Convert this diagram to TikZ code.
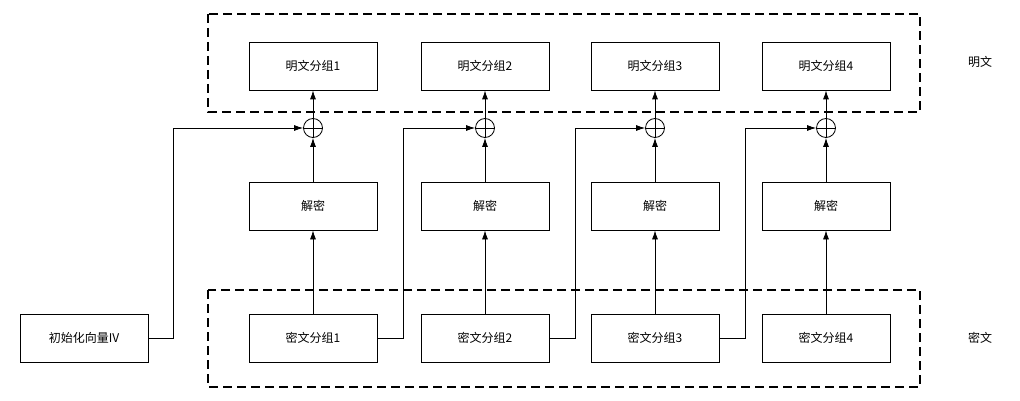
\documentclass[tikz,border=0pt]{standalone}
\usepackage{fontspec}
\setmainfont{Noto Sans CJK SC}
\usetikzlibrary{arrows.meta}
\begin{document}
\begin{tikzpicture}[x=1pt,y=-1pt,
 box/.style={draw,line width=0.8pt,minimum width=128pt,minimum height=48pt,inner sep=0pt,font=\fontsize{12}{14}\selectfont},
 xo/.style={draw,circle,line width=0.8pt,minimum size=19pt,inner sep=0pt},
 ar/.style={-{Latex[length=9pt,width=6pt]},line width=0.8pt},
 dsh/.style={draw,dashed,line width=1.4pt,dash pattern=on 9pt off 5pt}]
\useasboundingbox (0,0) rectangle (1020,401);
\draw[dsh] (208,14) rectangle (920,112);
\draw[dsh] (208,290) rectangle (920,387);
\node[font=\fontsize{12}{14}\selectfont] (lp) at (980,62) {明文};
\node[font=\fontsize{12}{14}\selectfont] (lc) at (980,338) {密文};
\node[box] (iv) at (84,338) {初始化向量IV};
\foreach \i/\x in {1/313,2/485,3/655,4/826}{
 \node[box] (p\i) at (\x,66) {明文分组\i};
 \node[box] (d\i) at (\x,206) {解密};
 \node[box] (c\i) at (\x,338) {密文分组\i};
 \node[xo] (x\i) at (\x,128) {};
 \draw[line width=0.6pt] (x\i.north)--(x\i.south) (x\i.west)--(x\i.east);
 \draw[ar] (c\i) -- (d\i);
 \draw[ar] (d\i) -- (x\i);
 \draw[ar] (x\i) -- (p\i);
}
\draw[ar] (iv.east) -- ++(25,0) |- (x1.west);
\draw[ar] (c1.east) -- ++(26,0) |- (x2.west);
\draw[ar] (c2.east) -- ++(26,0) |- (x3.west);
\draw[ar] (c3.east) -- ++(26,0) |- (x4.west);
\end{tikzpicture}
\end{document}
